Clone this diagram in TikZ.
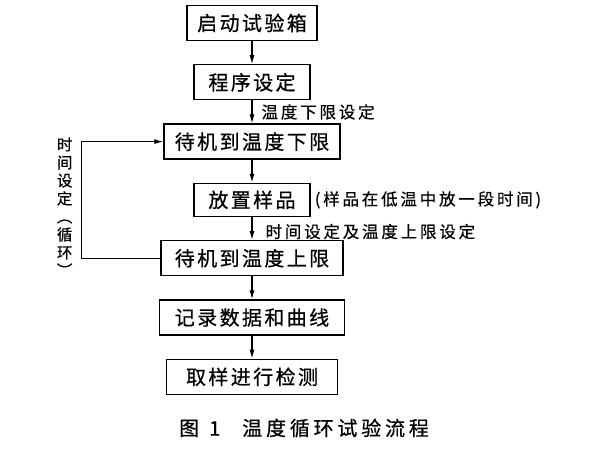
\documentclass[tikz,border=0pt]{standalone}
\usepackage{fontspec}
\usepackage{tikz}
\usetikzlibrary{positioning,arrows.meta}
\newfontfamily\cjk[LetterSpace=12, FakeBold=0.6]{Noto Sans CJK SC}
\newfontfamily\cjknote[LetterSpace=17, FakeBold=0.5]{Noto Sans CJK SC}
\newfontfamily\cjkcap[LetterSpace=19, FakeBold=0.6]{Noto Sans CJK SC}

\begin{document}
\begin{tikzpicture}[align=center, node distance=23pt, x=1pt, y=1pt,
	main/.style = {draw, line width=1.3pt, minimum height=35pt, inner xsep=0pt, font=\cjk\fontsize{20}{24}\selectfont},
	note/.style = {inner sep=1pt, font=\cjknote\fontsize{16.5}{20}\selectfont},
	flow/.style = {line width=1.2pt, -{Latex[length=9pt, width=5pt]}}]
	\useasboundingbox (0,0) rectangle (598,-461);
	\node[main, minimum width=130pt] (1) at (252,-23) {启动试验箱};
	\node[main, minimum width=116pt] (2) [below = of 1] {程序设定};
	\node[main, minimum width=176pt] (3) [below = of 2] {待机到温度下限};
	\node[main, minimum width=116pt, minimum height=33pt] (4) [below = of 3] {放置样品};
	\node[main, minimum width=182pt] (5) [below = of 4] {待机到温度上限};
	\node[main, minimum width=185pt] (6) [below = of 5] {记录数据和曲线};
	\node[main, minimum width=171pt] (7) [below = of 6] {取样进行检测};
	\node[note, anchor=west] (n4) [right = 3pt of 4] {(样品在低温中放一段时间)};
	\node[font=\cjkcap\fontsize{20}{24}\selectfont] (cap) at (304,-428) {图\hspace{10pt}1\hspace{22pt}温度循环试验流程};
	\draw[flow] (1) -- (2);
	\draw[flow] (2) -- node[note, right = 8pt] (n2) {温度下限设定} (3);
	\draw[flow] (3) -- (4);
	\draw[flow] (4) -- node[note, right = 12pt, yshift=-3pt] (n3) {时间设定及温度上限设定} (5);
	\draw[flow] (5) -- (6);
	\draw[flow] (6) -- (7);
	\draw[flow] (5.west) -- ++(-79,0) |- node[pos=0.22, left = 5pt, font=\cjknote\fontsize{15.5}{18}\selectfont] (loop) {时\\间\\设\\定\\︵\\循\\环\\︶} (3.west);
\end{tikzpicture}
\end{document}
